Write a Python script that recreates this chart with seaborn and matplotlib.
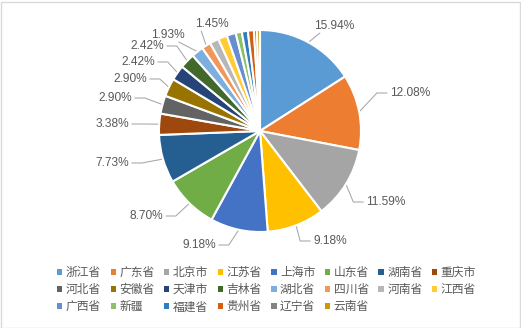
import numpy as np
import matplotlib
matplotlib.use('Agg')
import matplotlib.pyplot as plt
import seaborn as sns
from matplotlib.patches import Patch, Rectangle

# ---------------- data ----------------
provinces = ['浙江省', '广东省', '北京市', '江苏省', '上海市', '山东省', '湖南省', '重庆市',
             '河北省', '安徽省', '天津市', '吉林省', '湖北省', '四川省', '河南省', '江西省',
             '广西省', '新疆', '福建省', '贵州省', '辽宁省', '云南省']
shares = [15.94, 12.08, 11.59, 9.18, 9.18, 8.70, 7.73, 3.38, 2.90, 2.90, 2.42, 2.42,
          1.93, 1.45, 1.45, 1.45, 1.45, 0.97, 0.97, 0.97, 0.48, 0.48]
n_labeled = 14  # slices that carry a visible percentage label

colors = ['#5B9BD5', '#ED7D31', '#A5A5A5', '#FFC000', '#4472C4', '#70AD47',
          '#255E91', '#9E480E', '#636363', '#997300', '#264478', '#43682B',
          '#7CAFDD', '#F1975A', '#B7B7B7', '#FFCD33', '#698ED0', '#8CC168',
          '#327DC2', '#D26012', '#848484', '#CC9A00']

# label layout: text centres in canvas pixels (x from left, y from top)
label_px = [(334, 26), (410, 93), (386, 202), (330, 241), (199, 245), (146, 216),
            (112, 163), (112, 124), (115, 98), (130, 79), (138, 62), (147, 46),
            (168, 35), (212, 24)]

# ---------------- figure ----------------
sns.set_theme(style='white')
plt.rcParams['font.family'] = ['Noto Sans CJK SC', 'DejaVu Sans']

W, H = 521, 328
CX, CY, R = 260, 131, 101
fig = plt.figure(figsize=(W / 100, H / 100), dpi=100)
ax = fig.add_axes([0, 0, 1, 1])

palette = sns.color_palette(colors)
wedges, _ = ax.pie(shares, colors=palette, startangle=90, counterclock=False,
                   radius=1, center=(0, 0),
                   wedgeprops=dict(edgecolor='white', linewidth=1.5))
ax.set_xlim(-CX / R, (W - CX) / R)
ax.set_ylim(-(H - CY) / R, CY / R)
ax.axis('off')


def px2data(px, py):
    return (px - CX) / R, (CY - py) / R


texts = []
for i in range(n_labeled):
    x, y = px2data(*label_px[i])
    t = ax.text(x, y, f'{shares[i]:.2f}%', ha='center', va='center',
                fontsize=8.6, family='Liberation Sans', color='#595959')
    texts.append(t)

fig.canvas.draw()
inv = ax.transData.inverted()
for i, t in enumerate(texts):
    w = wedges[i]
    mid = np.deg2rad((w.theta1 + w.theta2) / 2)
    sx, sy = np.cos(mid), np.sin(mid)
    spx, spy = ax.transData.transform((sx, sy))
    bb = t.get_window_extent()
    ty = (bb.y0 + bb.y1) / 2
    side = 1 if (bb.x0 + bb.x1) / 2 > ax.transData.transform((0, 0))[0] else -1
    near = bb.x0 if side > 0 else bb.x1
    end_x = near - side * 3
    elbow_x = end_x - side * 10
    if side * (elbow_x - spx) < 0 or (bb.x0 - 4 < spx < bb.x1 + 4):
        # label sits right above the slice: straight line to its underside
        ex = min(max(spx + 6 * side, bb.x0 + 6), bb.x1 - 6)
        pts = [(spx, spy), (ex, bb.y0 - 1)]
    else:
        pts = [(spx, spy), (elbow_x, ty), (end_x, ty)]
    dpts = inv.transform(pts)
    ax.plot(dpts[:, 0], dpts[:, 1], color='#A6A6A6', lw=0.75, zorder=0)

# legend (row-major order as in the reference: 8 per row)
ncol = 8
handles = [Patch(facecolor=c, edgecolor='none') for c in colors]
order = [c + r * ncol for c in range(ncol) for r in range(3) if c + r * ncol < len(provinces)]
fig.legend([handles[k] for k in order], [provinces[k] for k in order],
           ncol=ncol, loc='upper left',
           bbox_to_anchor=(57 / W, 1 - 266 / H), frameon=False,
           prop={'family': ['Noto Sans CJK SC', 'DejaVu Sans'], 'size': 8.5},
           handlelength=0.45, handleheight=0.45, handletextpad=0.3,
           columnspacing=0.8, labelspacing=0.35, borderpad=0,
           borderaxespad=0, labelcolor='#595959')

# chart-area border
fig.add_artist(Rectangle((0.5 / W, 0.5 / H), (W - 2) / W, (H - 2) / H,
                         transform=fig.transFigure, fill=False,
                         edgecolor='#D9D9D9', linewidth=1))

fig.savefig('out.png', dpi=100, facecolor='white')
